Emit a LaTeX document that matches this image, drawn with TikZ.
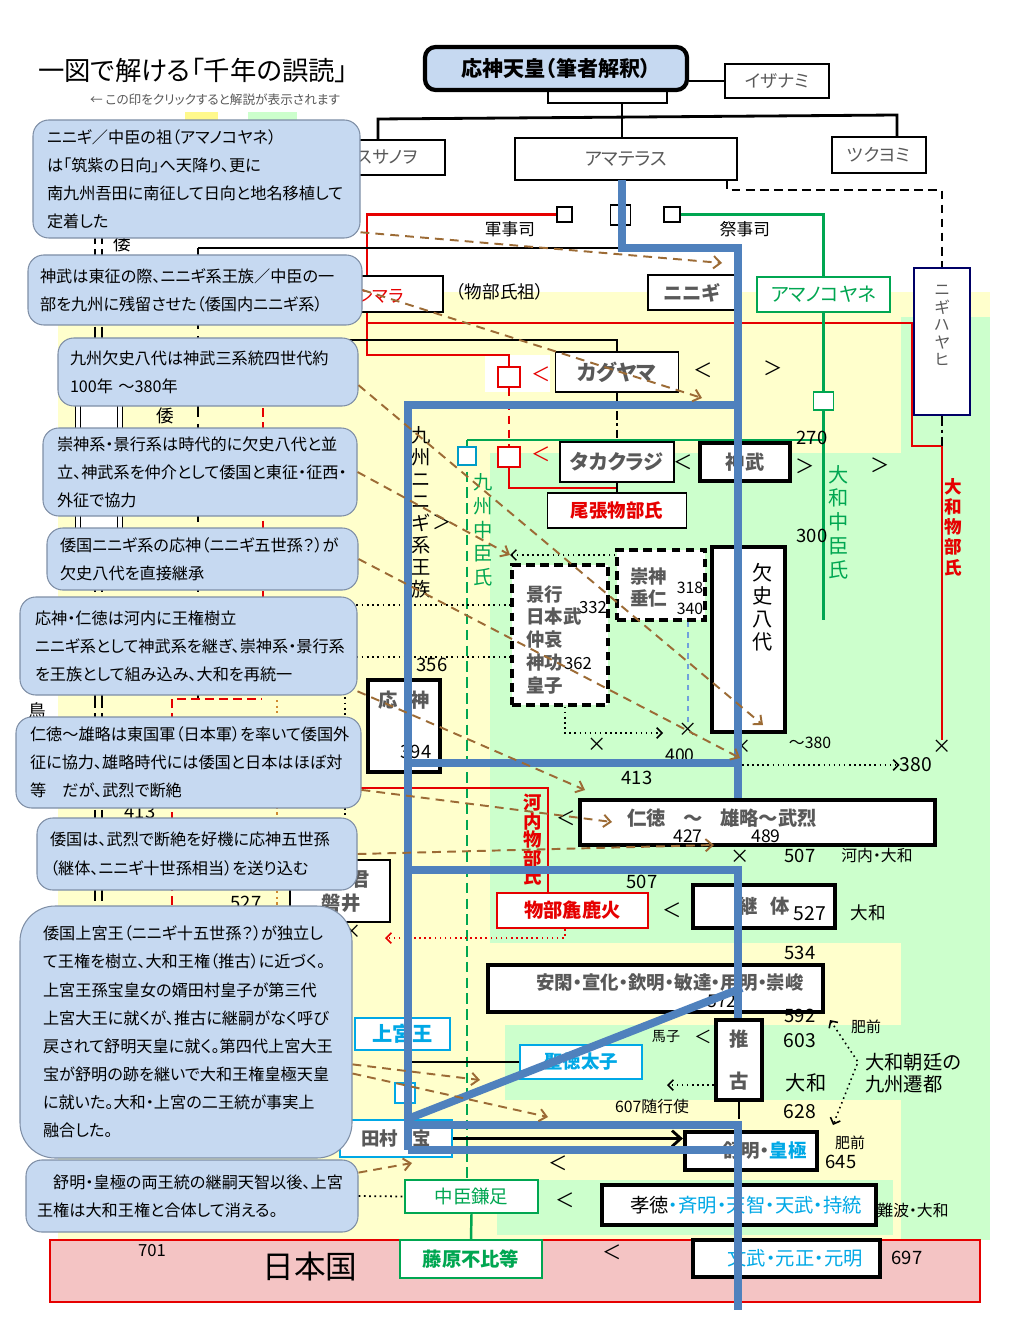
\documentclass[tikz,border=0pt]{standalone}
\usepackage{fontspec}
\setmainfont{Noto Sans CJK JP}[RawFeature=+palt]
\usetikzlibrary{arrows.meta}
\definecolor{calloutfill}{HTML}{C6D9F1}
\definecolor{calloutedge}{HTML}{7F8FA6}
\definecolor{paleyellow}{HTML}{FFFFCC}
\definecolor{palegreen}{HTML}{CCFFCC}
\definecolor{palepink}{HTML}{F4C4C4}
\definecolor{trunkblue}{HTML}{4F81BD}
\definecolor{textgray}{HTML}{595959}
\definecolor{linered}{HTML}{E60000}
\definecolor{clangreen}{HTML}{00A651}
\definecolor{shrinecyan}{HTML}{00A8E6}
\definecolor{hintbrown}{HTML}{9C6B35}
\definecolor{orangeline}{HTML}{D08A30}
\definecolor{softblue}{HTML}{6FA0DC}
\newcommand{\fsz}[2]{\fontsize{#1}{#2}\selectfont}
\pgfdeclarelayer{bg}
\pgfdeclarelayer{wires}
\pgfsetlayers{bg,wires,main}

\begin{document}
\begin{tikzpicture}[x=0.02cm, y=-0.02cm,
  sz/.style 2 args={minimum width=#1*0.02cm, minimum height=#2*0.02cm},
  box/.style={rectangle, draw=black, line width=0.7pt, fill=white, inner sep=0pt, text=textgray, font=\fsz{10}{12}},
  kingbox/.style={box, line width=2.4pt, font=\bfseries\fsz{10.5}{12}},
  dashbox/.style={kingbox, line width=2pt, dash pattern=on 5pt off 3pt},
  cyanbox/.style={box, draw=shrinecyan, line width=1.6pt, text=shrinecyan, font=\bfseries\fsz{10.5}{12}},
  greenbox/.style={box, draw=clangreen, text=clangreen, font=\fsz{10.5}{12}},
  sq/.style={rectangle, draw, fill=white, inner sep=0pt, line width=0.6pt},
  callout/.style={rectangle, rounded corners=9pt, draw=calloutedge, line width=0.6pt, fill=calloutfill, align=left, text=black, inner sep=0pt, font=\fsz{9.2}{16}},
  tag/.style={inner sep=0pt, font=\fsz{10.5}{12}},
  chev/.style={inner sep=0pt, font=\fsz{11}{12}},
  vtext/.style={align=center, inner sep=0pt},
  famline/.style={line width=1.6pt},
  redline/.style={draw=linered, line width=1.6pt},
  greenline/.style={draw=clangreen, line width=1.4pt},
  trunk/.style={draw=trunkblue, line width=4.5pt},
  hint/.style={-{Straight Barb[length=4pt,width=7pt]}, draw=hintbrown, line width=1.1pt, dash pattern=on 5pt off 3.5pt},
  dotarrow/.style={-{Straight Barb[length=3pt,width=6pt]}, line width=0.9pt, dotted}
]
\useasboundingbox (0,0) rectangle (1008,1344);

% background bands
\begin{pgfonlayer}{bg}
\fill[white] (0,0) rectangle (1008,1344);
\fill[paleyellow] (58,292) rectangle (990,1240);
\fill[palegreen] (901,317) rectangle (990,1240);
\fill[palegreen] (490,453) rectangle (901,943);
\fill[palegreen] (505,1025) rectangle (901,1100);
\fill[palegreen] (497,1180) rectangle (893,1235);
\fill[white] (485,355) rectangle (550,392);
\fill[yellow!45] (185,112) rectangle (218,122);
\fill[palegreen] (248,112) rectangle (297,122);
\filldraw[fill=palepink, draw=linered, line width=1.5pt] (50,1240) rectangle (980,1302);
\end{pgfonlayer}

% title
\node[font=\fsz{15}{17}] (title) at (193,70) {一図で解ける「千年の誤読」};
\node[font=\fsz{7.2}{9}, text=textgray] (howto) at (215,100) {← この印をクリックすると解説が表示されます};

% gods
\node[box, sz={119}{13}] (stub) at (607.5,96.5) {};
\node[kingbox, rounded corners=6pt, fill=calloutfill, text=black, font=\bfseries\fsz{12}{14}, sz={262}{43}] (ojin) at (556,68.5) {応神天皇（筆者解釈）};
\node[box, sz={104}{34}] (izanami) at (777,81) {イザナミ};
\node[box, sz={115}{35}] (susanoo) at (387.5,157.5) {スサノヲ};
\node[box, font=\fsz{10.5}{12}, sz={222}{42}] (amaterasu) at (626,159) {アマテラス};
\node[box, sz={94}{36}] (tsukuyomi) at (879,155) {ツクヨミ};

\node[sq, sz={15}{15}] (sqL) at (564.5,214.5) {};
\node[sq, sz={20}{20}] (sqM) at (620.5,215) {};
\node[sq, sz={16}{15}] (sqR) at (672,214.5) {};
\node[tag, font=\fsz{9.5}{11}] (gunji) at (510,229) {軍事司};
\node[tag, font=\fsz{9.5}{11}] (saiji) at (745,229) {祭事司};

\node[box, sz={98}{36}] (umara) at (394,294) {};
\node[tag, text=linered, anchor=west, font=\fsz{10}{12}] (umaralbl) at (356,296) {シマラ};
\node[tag, font=\fsz{10}{12}] (mononobeso) at (500,292) {（物部氏祖）};
\node[box, font=\bfseries\fsz{11}{12}, sz={87}{35}] (ninigi) at (691.5,292.5) {ニニギ};
\node[greenbox, font=\fsz{11}{12}, sz={133}{35}] (amanokoyane) at (823.5,294.5) {アマノコヤネ};
\node[box, draw=black!60!blue, sz={56}{147}] (nigihayahi) at (942,341.5) {};
\node[vtext, text=textgray, font=\fsz{9}{10}, anchor=north] (nigilbl) at (942,285) {ニ\\ギ\\ハ\\ヤ\\ヒ};

% kyushu and yamato lines
\node[sq, draw=linered, sz={22}{20}] (sqR1) at (509,377) {};
\node[sq, draw=linered, sz={22}{20}] (sqR2) at (509,457) {};
\node[sq, draw=shrinecyan!70!teal, sz={18}{18}] (sqC) at (467,456) {};
\node[sq, draw=clangreen, sz={20}{18}] (sqG) at (823.5,401) {};
\node[chev, text=linered] (ltR1) at (541,374) {＜};
\node[chev, text=linered] (ltR2) at (541,454) {＜};

\node[box, font=\bfseries\fsz{12}{13}, sz={123}{40}] (kaguyama) at (617,372) {カグヤマ};
\node[chev] (ltK) at (703,370) {＜};
\node[chev] (gtK) at (773,368) {＞};
\node[box, font=\bfseries\fsz{11.5}{13}, sz={114}{40}] (takakuraji) at (617,462) {タカクラジ};
\node[chev] (ltT) at (683,462) {＜};
\node[kingbox, font=\bfseries\fsz{11}{12}, sz={90}{38}] (jinmu) at (745,462) {神武};
\node[chev] (gtJ1) at (805,466) {＞};
\node[chev] (gtJ2) at (880,465) {＞};
\node[tag] (y270) at (812,438) {270};
\node[box, text=linered, font=\bfseries\fsz{10.5}{12}, sz={139}{35}] (owari) at (617,510.5) {尾張物部氏};
\node[tag] (y300) at (812,536) {300};

\node[vtext, font=\fsz{11}{12.5}] (kyushuNinigi) at (421,512) {九\\州\\ニ\\ニ\\ギ\\系\\王\\族};
\node[chev] (gtN) at (442,522) {＞};
\node[vtext, text=clangreen, font=\fsz{11}{13.5}] (kyushuNakatomi) at (483,530) {九\\州\\中\\臣\\氏};
\node[vtext, text=clangreen, font=\fsz{11.5}{13.5}] (yamatoNakatomi) at (839,522) {大\\和\\中\\臣\\氏};
\node[vtext, text=linered, font=\bfseries\fsz{10}{11.5}] (yamatoMononobe) at (953,527) {大\\和\\物\\部\\氏};

% fourth century
\node[dashbox, sz={88}{70}] (sujin) at (661,585) {};
\node[align=left, anchor=west, inner sep=0pt, text=textgray, font=\bfseries\fsz{10.5}{12.5}] (sujinlbl) at (630,587) {崇神\\垂仁};
\node[tag, font=\fsz{9}{10}] (y318) at (690,588) {318};
\node[tag, font=\fsz{9}{10}] (y340) at (690,609) {340};
\node[dashbox, sz={96}{140}] (keiko) at (560,635) {};
\node[align=left, anchor=north west, inner sep=0pt, text=textgray, font=\bfseries\fsz{10.5}{13}] (keikolbl) at (526,585) {景行\\日本武\\仲哀\\神功\\皇子};
\node[tag, font=\fsz{9.5}{11}] (y332) at (593,608) {332};
\node[tag, font=\fsz{9.5}{11}] (y362) at (578,664) {362};
\node[kingbox, sz={73}{185}] (ketsushi) at (748.5,639.5) {};
\node[vtext, font=\fsz{11.5}{13}] (ketsushilbl) at (763,607) {欠\\史\\八\\代};

\node[tag, font=\fsz{11}{12}] (xA) at (597,745) {×};
\node[tag, font=\fsz{11}{12}] (xB) at (688,730) {×};
\node[tag, font=\fsz{11}{12}] (xC) at (742,747) {×};
\node[tag, font=\fsz{11}{12}] (xD) at (942,747) {×};
\node[tag, font=\fsz{11}{12}] (xE) at (740,857) {×};
\node[tag, font=\fsz{11}{12}] (xF) at (352,932) {×};
\node[tag, font=\fsz{9}{10}] (y380a) at (810,743) {～380};
\node[tag, font=\fsz{10}{11}] (y400) at (680,755) {400};
\node[tag] (y413) at (637,778) {413};
\node[tag, font=\fsz{11}{12}] (y380b) at (916,765) {380};
\node[tag] (y356) at (432,665) {356};
\node[kingbox, sz={72}{92}] (ojinK) at (404,726) {};
\node[tag, text=textgray, font=\bfseries\fsz{11}{12}] (ojinKlbl) at (404,700) {応\hspace{7pt}神};
\node[tag] (y394) at (416,752) {394};

% fifth and sixth century
\node[vtext, text=linered, font=\bfseries\fsz{10.5}{10.5}] (kawachi) at (533,840) {河\\内\\物\\部\\氏};
\node[kingbox, sz={355}{45}] (nintoku) at (757.5,822.5) {};
\node[tag, text=textgray, font=\bfseries\fsz{11}{12}] (nintokulbl) at (722,818) {仁徳\hspace{0.9em}～\hspace{0.9em}雄略～武烈};
\node[tag, font=\fsz{10}{11}] (y427) at (688,836) {427};
\node[tag, font=\fsz{10}{11}] (y489) at (766,836) {489};
\node[chev] (ltN) at (566,818) {＜};
\node[tag] (y507a) at (800,856) {507};
\node[tag, font=\fsz{9}{10}] (kawachiYamato) at (877,855) {河内・大和};
\node[tag] (y507b) at (642,882) {507};
\node[box, draw=linered, line width=1.5pt, text=linered, font=\bfseries\fsz{11}{12}, sz={151}{35}] (arakabi) at (572.5,910.5) {物部麁鹿火};
\node[chev] (ltA) at (672,910) {＜};
\node[kingbox, sz={142}{43}] (keitai) at (764,906.5) {};
\node[tag, text=textgray, font=\bfseries\fsz{11}{12}] (keitailbl) at (764,906) {継\hspace{7pt}体};
\node[tag, font=\fsz{11}{12}] (y527a) at (810,914) {527};
\node[tag, font=\fsz{10}{12}] (yamatoA) at (868,913) {大和};
\node[box, sz={100}{62}] (iwai) at (340,891) {};
\node[tag, text=textgray, font=\bfseries\fsz{11}{12}] (iwaiKimi) at (360,880) {君};
\node[tag, text=textgray, font=\bfseries\fsz{11}{12}] (iwaiName) at (341,903) {磐井};
\node[tag] (y527b) at (246,903) {527};

\node[kingbox, sz={335}{47}] (ankan) at (655.5,988.5) {};
\node[tag, text=textgray, font=\bfseries\fsz{10.5}{12}] (ankanlbl) at (670,983) {安閑・宣化・欽明・敏達・用明・崇峻};
\node[tag, font=\fsz{10}{11}] (y572) at (722,1001) {572};
\node[tag] (y534) at (800,953) {534};
\node[tag] (y592) at (800,1016) {592};
\node[tag, font=\fsz{8.5}{9}] (hizenA) at (866,1027) {肥前};
\node[tag, font=\fsz{11}{12}] (y603) at (800,1041) {603};
\node[align=left, inner sep=0pt, font=\fsz{11}{12.5}] (sento) at (913,1073) {大和朝廷の\\九州遷都};
\node[kingbox, align=center, font=\bfseries\fsz{11}{24}, sz={46}{80}] (suiko) at (739,1060) {推\\古};
\node[tag, font=\fsz{8}{9}] (umako) at (666,1037) {馬子};
\node[chev, font=\fsz{10}{11}] (ltS) at (703,1037) {＜};
\node[tag, font=\fsz{11.5}{12}] (yamatoB) at (806,1083) {大和};
\node[tag, font=\fsz{11}{12}] (y628) at (800,1112) {628};
\node[tag, font=\fsz{9}{10}] (zuikoushi) at (652,1106) {607随行使};

% seventh century
\node[cyanbox, font=\bfseries\fsz{11.5}{12}, sz={95}{32}] (jogu) at (402.5,1034) {上宮王};
\node[cyanbox, sz={122}{34}] (shotoku) at (581,1062) {聖徳太子};
\node[sq, draw=shrinecyan, line width=1.4pt, sz={20}{20}] (sqT) at (405,1093) {};
\node[cyanbox, text=textgray, sz={112}{37}] (tamura) at (396,1138.5) {田村\hspace{8pt}宝};
\node[kingbox, sz={132}{38}] (jomei) at (751,1151) {};
\node[tag, font=\bfseries\fsz{10.5}{12}] (jomeilbl) at (765,1151) {\textcolor{textgray}{舒明・}\textcolor{shrinecyan}{皇極}};
\node[tag, font=\fsz{8.5}{9}] (hizenB) at (850,1143) {肥前};
\node[tag] (y645) at (841,1162) {645};
\node[chev] (ltJ) at (558,1163) {＜};
\node[greenbox, sz={133}{33}] (kamatari) at (471.5,1196.5) {中臣鎌足};
\node[chev] (ltKm) at (565,1200) {＜};
\node[kingbox, sz={274}{40}] (kotoku) at (739,1205) {};
\node[tag, font=\fsz{11}{12}] (kotokulbl) at (746,1205) {孝徳\textcolor{shrinecyan}{・斉明・天智・天武・持統}};
\node[tag, font=\fsz{9}{10}] (naniwa) at (913,1210) {難波・大和};

\node[tag, font=\fsz{9.5}{10}] (y701) at (152,1251) {701};
\node[tag, font=\fsz{18}{20}] (nihonlbl) at (310,1266) {日本国};
\node[greenbox, font=\bfseries\fsz{11}{12}, sz={142}{38}] (fuhito) at (471,1259) {藤原不比等};
\node[chev] (ltF) at (612,1252) {＜};
\node[kingbox, sz={187}{37}] (monmu) at (786.5,1258.5) {};
\node[tag, text=shrinecyan, font=\fsz{11}{12}] (monmulbl) at (795,1258) {文武・元正・元明};
\node[tag] (y697) at (907,1258) {697};

% hidden left column
\node[rectangle, draw=black, double=white, double distance=2pt, line width=0.6pt, fill=white, sz={42}{145}] (wakoku) at (99,467) {};
\node[tag, font=\fsz{10}{12}] (wa1) at (122,244) {倭};
\node[tag, font=\fsz{10}{12}] (wa2) at (165,416) {倭};
\node[tag, font=\fsz{10}{12}] (tori) at (37,711) {鳥};
\node[tag] (y413b) at (140,812) {413};

\coordinate (famL) at (378,119);
\coordinate (famR) at (897,115);
\coordinate (tr0) at (622,180);
\coordinate (nb) at (727,190);
\coordinate (rA) at (367,323);
\coordinate (rB) at (367,355);
\coordinate (rC) at (912,446);
\coordinate (rE) at (942,446);
\coordinate (rD) at (509,488);
\coordinate (kA) at (300,340);
\coordinate (kB) at (198,248);
\coordinate (kBlow) at (198,700);
\coordinate (gL) at (467,440);
\coordinate (gEnd) at (823.5,620);
\coordinate (kkTip) at (510,555);
\coordinate (kkBend) at (565,733);
\coordinate (kkTip2) at (663,733);
\coordinate (tkCorner) at (742,765);
\coordinate (dL1) at (330,605);
\coordinate (dL2) at (330,657);
\coordinate (rK1) at (300,788);
\coordinate (rK2) at (548,788);
\coordinate (rdBend) at (565,938);
\coordinate (rdTip) at (385,938);
\coordinate (sA) at (830,1020);
\coordinate (sB) at (858,1062);
\coordinate (sC) at (833,1125);
\coordinate (suTip) at (667,1085);
\coordinate (shL) at (408,1062);

% connectors under the boxes
\begin{pgfonlayer}{wires}
\draw[famline] (izanami.west) -- (izanami.west -| ojin.east);
\draw[famline] (susanoo.north -| famL) -- (famL) -- (famR) -- (tsukuyomi.north -| famR);
\draw[famline] (stub.south -| tr0) -- (amaterasu.north -| tr0);
\draw[famline, dash pattern=on 5pt off 3pt] (amaterasu.south -| nb) -- (nb) -- (nb -| nigihayahi) -- (nigihayahi.north);
\draw[redline] (sqL.west) -- (sqL.west -| rB) -- (rB) -- (rB -| sqR1) -- (sqR1.north);
\draw[redline] (rA) -- (rA -| rC) -- (rC) -- (rE) -- (xD.north);
\draw[famline, dash pattern=on 6pt off 2pt on 2pt off 2pt] (nigihayahi.south) -- (rE);
\draw[redline, dash pattern=on 5pt off 3pt] (sqR1.south) -- (sqR2.north);
\draw[redline] (sqR2.south) -- (rD) -- (rD -| takakuraji);
\draw[greenline] (sqR.east) -- (sqR.east -| amanokoyane) -- (amanokoyane.north);
\draw[greenline] (amanokoyane.south) -- (sqG.north);
\draw[greenline] (sqG.south) -- (gEnd);
\draw[greenline] (gL) -- (gL -| sqG);
\draw[greenline, dash pattern=on 6pt off 3pt] (gL) -- (gL |- kamatari.north);
\draw[greenline] (kamatari.south) -- (fuhito.north);
\draw[famline] (kA) -- (kA -| kaguyama) -- (kaguyama.north);
\draw[famline, dash pattern=on 5pt off 2pt on 1.5pt off 2pt] (kaguyama.south) -- (takakuraji.north);
\draw[famline] (takakuraji.south) -- (owari.north);
\draw[famline] (kB) -- (kB -| tr0);
\draw[famline, dash pattern=on 6pt off 4pt] (kB) -- (kBlow);
\draw[dotarrow] (sujin.north west |- kkTip) -- (kkTip);
\draw[dotarrow] (keiko.south -| kkBend) -- (kkBend) -- (kkTip2);
\draw[dotarrow] (tkCorner) -- (y380b.west);
\draw[dotted, line width=1pt] (dL1) -- (dL1 -| keiko.west);
\draw[dotted, line width=1pt] (dL2) -- (dL2 -| keiko.west);
\draw[softblue, line width=1.2pt, dashed] (sujin.south -| xB) -- (xB.north);
\draw[redline] (rK1) -- (rK2) -- (rK2 |- arakabi.north);
\draw[dotarrow, draw=linered] (arakabi.south -| rdBend) -- (rdBend) -- (rdTip);
\draw[dotarrow, {Straight Barb[length=3pt,width=6pt]}-{Straight Barb[length=3pt,width=6pt]}] (sA) -- (sB) -- (sC);
\draw[dotarrow] (suiko.west |- suTip) -- (suTip);
\draw[famline] (suiko.south) -- (suiko.south |- tamura.north);
\draw[famline] (shL) -- (shotoku.west);
\draw[famline, -{Straight Barb[length=5pt,width=9pt]}] (tamura.east) -- (tamura.east -| jomei.west);
% left column, mostly under the notes
\draw[line width=1.5pt, dash pattern=on 8pt off 3pt] (95,230) -- (95,920);
\draw[line width=1.5pt, dash pattern=on 8pt off 3pt] (102,230) -- (102,920);
\draw[redline, dash pattern=on 5pt off 3pt] (263,380) -- (263,600);
\draw[redline, dash pattern=on 5pt off 3pt] (172,905) -- (172,699) -- (262,699);
\draw[orangeline, dotted, line width=1.2pt] (277,700) -- (277,905);
\draw[dotted, line width=1pt] (345,650) -- (345,820);
\end{pgfonlayer}

% lineage trunk
\coordinate (t1) at (622,248);
\coordinate (t2) at (738,248);
\coordinate (tL1) at (408,405);
\coordinate (tL2) at (408,763);
\coordinate (tL3) at (408,870);
\coordinate (tD1) at (742,988);
\coordinate (tD2) at (410,1118);
\coordinate (tL4) at (408,1125);
\coordinate (tL6) at (408,1150);
\coordinate (tEnd) at (738,1310);
\draw[trunk] (tr0) -- (t1) -- (t2) -- (nintoku.north -| t2);
\draw[trunk] (tL1 -| t2) -- (tL1) -- (tL6);
\draw[trunk] (tL2) -- (tL2 -| t2);
\draw[trunk] (tL3) -- (tL3 -| t2) -- (suiko.north -| t2);
\draw[trunk] (tD1) -- (tD2);
\draw[trunk] (tL4) -- (tL4 -| t2) -- (tEnd);
\draw[trunk] (tL6) -- (tL6 -| t2);

% notes
\node[callout, sz={327}{118}, text width=5.98cm] (c1) at (196.5,179) {ニニギ／中臣の祖（アマノコヤネ）\\は「筑紫の日向」へ天降り、更に\\南九州吾田に南征して日向と地名移植して\\定着した};
\node[callout, sz={334}{70}, text width=6.2cm] (c2) at (195,290) {神武は東征の際、ニニギ系王族／中臣の一\\部を九州に残留させた（倭国内ニニギ系）};
\node[callout, sz={300}{68}, text width=5.52cm] (c3) at (208,372) {九州欠史八代は神武三系統四世代約\\100年 ～380年};
\node[callout, sz={314}{88}, text width=5.72cm] (c4) at (200,472) {崇神系・景行系は時代的に欠史八代と並\\立、神武系を仲介として倭国と東征・征西・\\外征で協力};
\node[callout, sz={311}{62}, text width=5.7cm] (c5) at (202.5,559) {倭国ニニギ系の応神（ニニギ五世孫？）が\\欠史八代を直接継承};
\node[callout, sz={337}{98}, text width=6.14cm] (c6) at (188.5,646) {応神・仁徳は河内に王権樹立\\ニニギ系として神武系を継ぎ、崇神系・景行系\\を王族として組み込み、大和を再統一};
\node[callout, sz={345}{91}, text width=6.34cm] (c7) at (188.5,762.5) {仁徳～雄略は東国軍（日本軍）を率いて倭国外\\征に協力、雄略時代には倭国と日本はほぼ対\\等　だが、武烈で断絶};
\node[callout, sz={320}{72}, text width=5.88cm] (c8) at (197,854) {倭国は、武烈で断絶を好機に応神五世孫\\（継体、ニニギ十世孫相当）を送り込む};
\node[callout, rounded corners=20pt, sz={332}{252}, text width=5.72cm] (c9) at (186,1032) {倭国上宮王（ニニギ十五世孫？）が独立し\\て王権を樹立、大和王権（推古）に近づく。\\上宮王孫宝皇女の婿田村皇子が第三代\\上宮大王に就くが、推古に継嗣がなく呼び\\戻されて舒明天皇に就く。第四代上宮大王\\宝が舒明の跡を継いで大和王権皇極天皇\\に就いた。大和・上宮の二王統が事実上\\融合した。};
\node[callout, sz={332}{72}, text width=6.2cm] (c10) at (192,1196) {　舒明・皇極の両王統の継嗣天智以後、上宮\\王権は大和王権と合体して消える。};

% pointers from the notes
\coordinate (h1) at (722,263);
\coordinate (h2) at (702,398);
\coordinate (h3) at (763,725);
\coordinate (h5) at (740,758);
\coordinate (h6) at (585,790);
\coordinate (h7) at (612,822);
\coordinate (h8) at (714,845);
\coordinate (h9a) at (480,1080);
\coordinate (h9b) at (548,1117);
\coordinate (h10) at (412,1163);
\draw[hint] (c1.-18) -- (h1);
\draw[hint] (c2.east) -- (h2);
\draw[hint] (c3.-5) -- (h3);
\draw[hint] (c4.east) -- (kkTip);
\draw[hint] (c5.east) -- (h5);
\draw[hint] (c6.-15) -- (h6);
\draw[hint] (c7.-9) -- (h7);
\draw[hint] (c8.east) -- (h8);
\draw[hint] (c9.-11) -- (h9a);
\draw[hint] (c9.-14) -- (h9b);
\draw[hint] (c10.8) -- (h10);
\draw[dotted, line width=1pt] (c10.east) -- (kamatari.west);
\end{tikzpicture}
\end{document}
